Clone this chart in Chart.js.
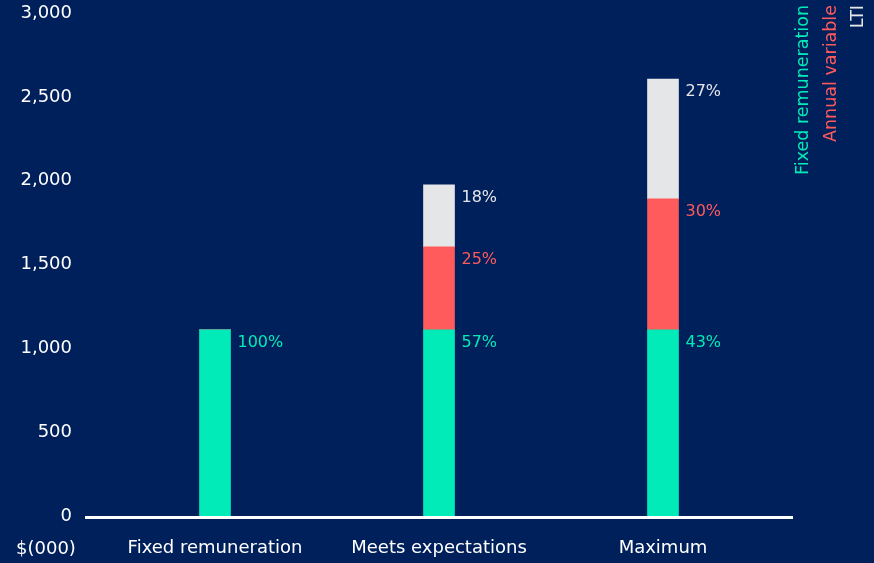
<!DOCTYPE html>
<html>
<head>
<meta charset="utf-8">
<script src="https://cdn.jsdelivr.net/npm/chart.js@4"></script>
<style>
  html, body { margin: 0; padding: 0; background: #00205b; }
  #wrap { width: 874px; height: 563px; }
</style>
</head>
<body>
<div id="wrap"><canvas id="chart" width="874" height="563"></canvas></div>
<script>
'use strict';

const categories = ['Fixed remuneration', 'Meets expectations', 'Maximum'];
const fixedValues = [1110, 1110, 1110];
const annualValues = [0, 495, 781];
const ltiValues = [0, 370, 715];
const fixedLabels = ['100%', '57%', '43%'];
const annualLabels = ['', '25%', '30%'];
const ltiLabels = ['', '18%', '27%'];
const seriesNames = ['Fixed remuneration', 'Annual variable', 'LTI'];
const yTicks = [0, 500, 1000, 1500, 2000, 2500, 3000];

const GREEN = '#00ebb8';
const RED = '#ff5a5c';
const GREY = '#e5e6e8';
const FONT = "'DejaVu Sans', sans-serif";

document.addEventListener('DOMContentLoaded', function() {
  const canvasElem = document.getElementById('chart');

  // labels next to each segment, plus legend and unit text
  const extrasPlugin = {
    id: 'extras',
    afterDatasetsDraw(chart) {
      const ctx = chart.ctx;
      const labelSets = [fixedLabels, annualLabels, ltiLabels];
      const colors = [GREEN, RED, GREY];
      ctx.save();
      ctx.font = '16px ' + FONT;
      ctx.textBaseline = 'middle';
      ctx.textAlign = 'left';
      labelSets.forEach((labels, di) => {
        const meta = chart.getDatasetMeta(di);
        meta.data.forEach((bar, i) => {
          if (!labels[i]) return;
          ctx.fillStyle = colors[di];
          ctx.fillText(labels[i], bar.x + bar.width / 2 + 7, bar.y + 13);
        });
      });

      // baseline
      const y0 = chart.scales.y.getPixelForValue(0);
      ctx.strokeStyle = '#ffffff';
      ctx.lineWidth = 3;
      ctx.beginPath();
      ctx.moveTo(85, y0 + 1.5);
      ctx.lineTo(793, y0 + 1.5);
      ctx.stroke();

      // unit label
      ctx.font = '18px ' + FONT;
      ctx.fillStyle = '#ffffff';
      ctx.textAlign = 'left';
      ctx.fillText('$(000)', 16, 549);

      // rotated legend
      ctx.font = '17.5px ' + FONT;
      const legendX = [803, 831, 858];
      seriesNames.forEach((name, i) => {
        ctx.save();
        ctx.translate(legendX[i], 5);
        ctx.rotate(-Math.PI / 2);
        ctx.textAlign = 'right';
        ctx.textBaseline = 'middle';
        ctx.fillStyle = colors[i];
        ctx.fillText(name, 0, 0);
        ctx.restore();
      });
      ctx.restore();
    }
  };

  const chartData = {
    labels: categories,
    datasets: [
      { label: seriesNames[0], data: fixedValues, backgroundColor: GREEN },
      { label: seriesNames[1], data: annualValues, backgroundColor: RED },
      { label: seriesNames[2], data: ltiValues, backgroundColor: GREY }
    ]
  };

  const chartConfig = {
    type: 'bar',
    data: chartData,
    options: {
      responsive: false,
      animation: false,
      layout: { padding: { top: 13, right: 99, left: 0, bottom: 0 } },
      datasets: { bar: { barThickness: 31, borderWidth: 0 } },
      plugins: { legend: { display: false }, tooltip: { enabled: false } },
      scales: {
        x: {
          stacked: true,
          grid: { display: false, drawTicks: false },
          border: { display: false },
          ticks: { color: '#ffffff', font: { family: FONT, size: 18 }, padding: 22, maxRotation: 0 },
          afterFit(scale) { scale.height = 47; }
        },
        y: {
          stacked: true,
          min: 0,
          max: 3000,
          afterBuildTicks(scale) { scale.ticks = yTicks.map(v => ({ value: v })); },
          grid: { display: false, drawTicks: false },
          border: { display: false },
          ticks: {
            color: '#ffffff',
            font: { family: FONT, size: 18 },
            padding: 31,
            callback: v => v.toLocaleString('en-US')
          },
          afterFit(scale) {
            scale.width = 103;
            scale.paddingTop = 0;
            scale.paddingBottom = 0;
          }
        }
      }
    },
    plugins: [extrasPlugin]
  };

  new Chart(canvasElem.getContext('2d'), chartConfig);
});
</script>
</body>
</html>
